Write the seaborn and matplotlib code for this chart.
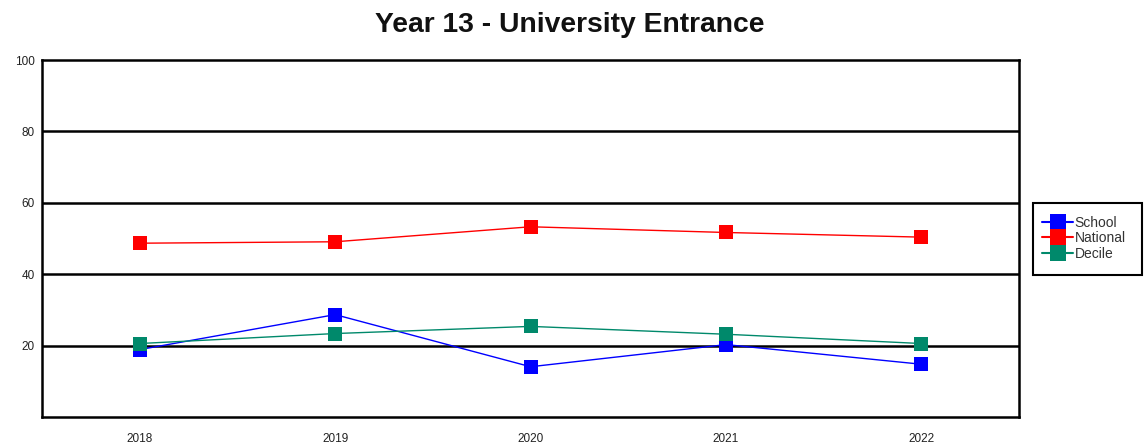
import matplotlib
matplotlib.use('Agg')
import matplotlib.pyplot as plt
from matplotlib.patches import Rectangle
import seaborn as sns
import pandas as pd

years = ['2018', '2019', '2020', '2021', '2022']
school = [18.9, 28.7, 14.1, 20.3, 14.8]
national = [48.7, 49.1, 53.3, 51.7, 50.4]
decile = [20.6, 23.4, 25.4, 23.2, 20.6]

series = ['School', 'National', 'Decile']
colours = {'School': '#0000ff', 'National': '#ff0000', 'Decile': '#00896b'}

rows = []
for name, vals in zip(series, [school, national, decile]):
    for i, v in enumerate(vals):
        rows.append({'pos': i, 'year': years[i], 'value': v, 'series': name})
df = pd.DataFrame(rows)

sns.set_style('white')
plt.rcParams['font.family'] = ['Liberation Sans', 'DejaVu Sans']

fig = plt.figure(figsize=(11.47, 4.48), dpi=100)
ax = fig.add_axes([0.0366, 0.069, 0.852, 0.797])

# black horizontal grid lines
for yv in [20, 40, 60, 80]:
    ax.axhline(yv, color='black', lw=1.8, zorder=1)

sns.lineplot(data=df, x='pos', y='value', hue='series', hue_order=series,
             palette=colours, marker='s', markersize=10, markeredgewidth=0,
             linewidth=1, ax=ax, zorder=3, legend=False)

ax.set_xlim(-0.5, 4.5)
ax.set_ylim(0, 100)
ax.set_xticks(range(len(years)))
ax.set_xticklabels(years)
ax.set_yticks([20, 40, 60, 80, 100])
ax.set_xlabel('')
ax.set_ylabel('')
ax.tick_params(axis='both', length=0, labelsize=8.5, colors='#222222')
ax.tick_params(axis='x', pad=11.5)
ax.tick_params(axis='y', pad=5)
for s in ax.spines.values():
    s.set_color('black')
    s.set_linewidth(1.8)

fig.text(0.497, 1 - 25 / 448, 'Year 13 - University Entrance', fontsize=20.3,
         fontweight='bold', ha='center', va='center', color='#111111')

# legend without its own frame, box drawn separately
handles = [plt.Line2D([], [], color=colours[n], marker='s', markersize=11.5,
                      markeredgewidth=0, lw=1.5) for n in series]
leg = fig.legend(handles, series, loc='upper left', bbox_to_anchor=(0.9086, 0.518),
                 fontsize=10, frameon=False, handlelength=2.25,
                 handletextpad=0.1, labelspacing=0.1,
                 borderpad=0, borderaxespad=0, labelcolor='#333333')
fig.patches.append(Rectangle((0.9005, 0.386), 0.0955, 0.161, transform=fig.transFigure,
                             fill=False, edgecolor='black', lw=1.5))

fig.savefig('out.png', dpi=100)
